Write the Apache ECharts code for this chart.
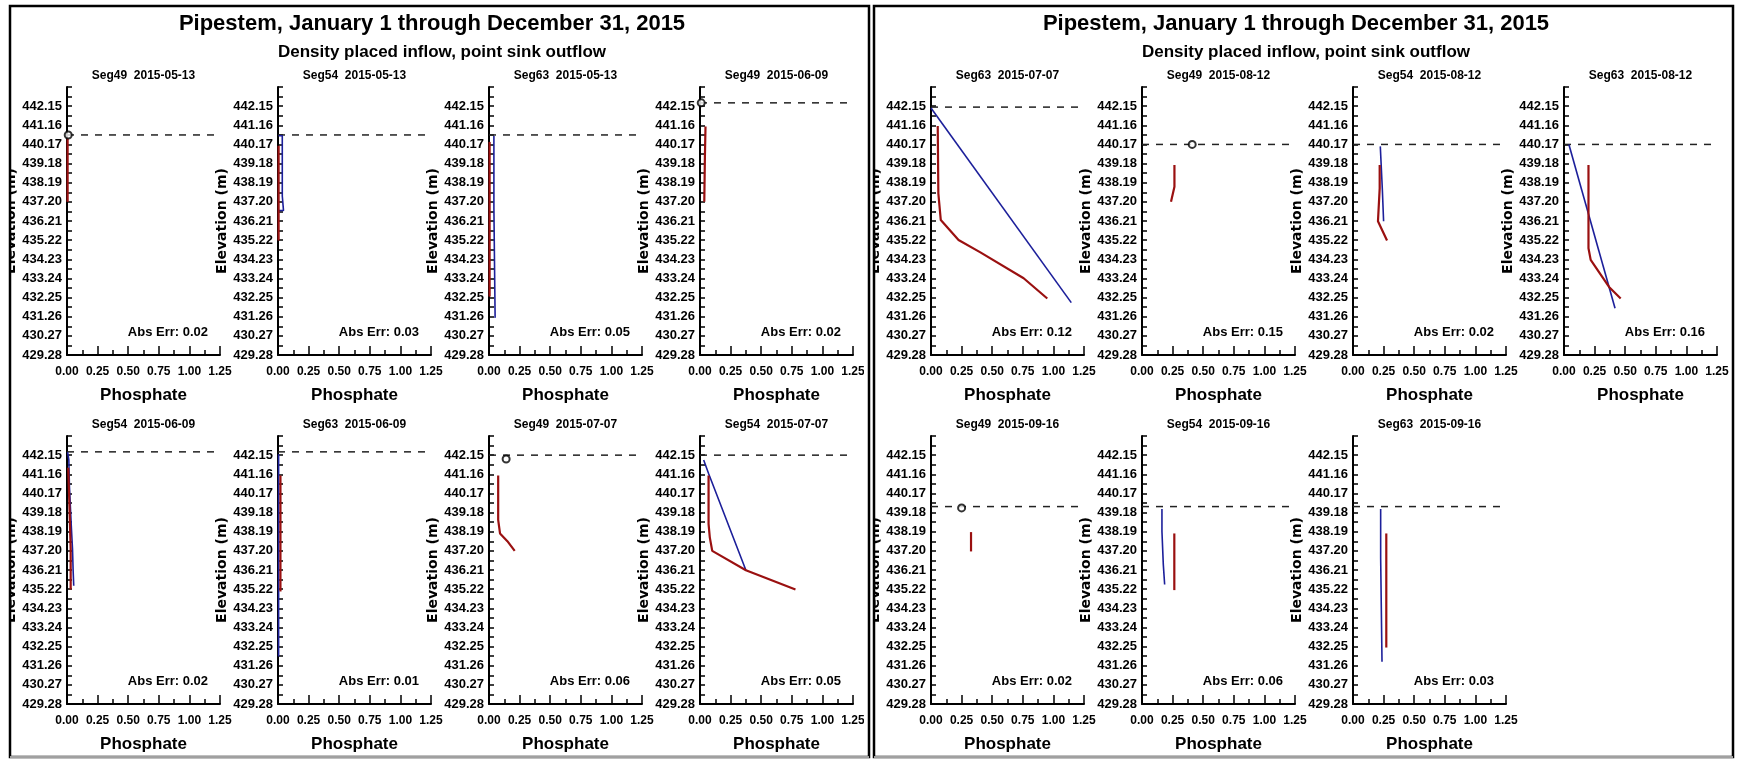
<!DOCTYPE html>
<html><head><meta charset="utf-8">
<script src="https://cdn.jsdelivr.net/npm/echarts@6/dist/echarts.min.js"></script>
<style>html,body{margin:0;padding:0;background:#fff}#c{width:1737px;height:769px}</style>
</head><body><div id="c"></div>
<script>
// ---------------- DATA ----------------
const mainTitle = 'Pipestem, January 1 through December 31, 2015';
const subTitle = 'Density placed inflow, point sink outflow';
const subplotTitles = [
  'Seg49  2015-05-13','Seg54  2015-05-13','Seg63  2015-05-13','Seg49  2015-06-09',
  'Seg54  2015-06-09','Seg63  2015-06-09','Seg49  2015-07-07','Seg54  2015-07-07',
  'Seg63  2015-07-07','Seg49  2015-08-12','Seg54  2015-08-12','Seg63  2015-08-12',
  'Seg49  2015-09-16','Seg54  2015-09-16','Seg63  2015-09-16'
];
const absErr = ['0.02','0.03','0.05','0.02','0.02','0.01','0.06','0.05','0.12','0.15','0.02','0.16','0.02','0.06','0.03'];
const waterSurface = [440.66,440.66,440.66,442.32,442.32,442.32,442.15,442.15,442.1,440.17,440.17,440.17,439.49,439.49,439.49];
const surfaceMarkX = [0.01,null,null,0.01,null,null,0.14,null,null,0.41,null,null,0.25,null,null];
const surfaceMarkY = [440.66,null,null,442.32,null,null,441.95,null,null,440.17,null,null,439.42,null,null];
const modeled = [
  [],
  [[0.005,440.62],[0.035,440.62],[0.035,437.5],[0.045,437.4],[0.045,436.75],[0.005,436.75]],
  [[0.04,440.6],[0.04,436.9],[0.05,436.8],[0.05,431.2]],
  [],
  [[0.005,442.3],[0.015,441.9],[0.02,440.5],[0.035,438.5],[0.045,437.3],[0.05,436.2],[0.055,435.4]],
  [[0.005,442.2],[0.005,431.74]],
  [],
  [[0.03,441.9],[0.07,441.2],[0.375,436.2]],
  [[0.0,442.05],[1.146,431.99]],
  [],
  [[0.223,440.07],[0.24,437.8],[0.25,437.8],[0.25,436.2]],
  [[0.04,440.17],[0.417,431.7]],
  [],
  [[0.163,439.37],[0.163,438.2],[0.174,438.2],[0.174,436.5],[0.185,436.5],[0.185,435.46]],
  [[0.226,439.37],[0.226,436.83],[0.237,436.83],[0.237,431.47]]
];
const observed = [
  [[0.005,440.5],[0.005,437.2]],
  [[0.005,440.1],[0.005,435.2]],
  [[0.005,440.3],[0.005,432.3]],
  [[0.045,441.1],[0.04,439.5],[0.035,437.2]],
  [[0.01,441.5],[0.02,439.5],[0.03,437.3],[0.03,435.2]],
  [[0.02,441.1],[0.02,435.1]],
  [[0.075,441.1],[0.075,438.8],[0.09,438.1],[0.15,437.7],[0.21,437.2]],
  [[0.07,441.1],[0.07,438.6],[0.08,437.9],[0.1,437.2],[0.375,436.2],[0.78,435.2]],
  [[0.055,441.12],[0.06,437.64],[0.08,436.26],[0.225,435.23],[0.4,434.6],[0.757,433.25],[0.95,432.2]],
  [[0.265,439.1],[0.265,437.98],[0.237,437.2]],
  [[0.218,439.1],[0.218,437.9],[0.204,437.9],[0.204,436.2],[0.278,435.2]],
  [[0.2,439.1],[0.2,434.8],[0.218,434.2],[0.368,432.8],[0.463,432.2]],
  [[0.327,438.17],[0.327,437.17]],
  [[0.264,438.1],[0.264,435.17]],
  [[0.272,438.1],[0.272,432.2]]
];
const xTickLabels = ['0.00','0.25','0.50','0.75','1.00','1.25'];
const yTickLabels = ['429.28','430.27','431.26','432.25','433.24','434.23','435.22','436.21','437.20','438.19','439.18','440.17','441.16','442.15'];
const xName = 'Phosphate';
const yName = 'Elevation (m)';
const errPrefix = 'Abs Err: ';

// ---------------- LAYOUT ----------------
const NARROW = '"Liberation Sans Narrow","Arial Narrow","Nimbus Sans Narrow",sans-serif';
const panelX = [10, 874];
const panelW = 859;
const colOff = [57, 268, 479, 690];
const rowTop = [87, 436];
const gridW = 153, gridH = 268;
const yMin = Number(yTickLabels[0]);
const yStep = Number(yTickLabels[1]) - Number(yTickLabels[0]);
const yMax = Number(yTickLabels[yTickLabels.length-1]) + yStep;
const yLabelVals = yTickLabels.map(Number);
const yTickVals = [];
for (let i = 0; i < yLabelVals.length; i++) {
  yTickVals.push(yLabelVals[i]);
  yTickVals.push(+(yLabelVals[i] + yStep/2).toFixed(3));
}
yTickVals.push(+yMax.toFixed(2));
const xMax = Number(xTickLabels[xTickLabels.length-1]);
const xInt = Number(xTickLabels[1]);

const grids = [], xAxes = [], yAxes = [], series = [], graphics = [];
const RED = '#9a1010', BLUE = '#1c1f9a';

subplotTitles.forEach((t, k) => {
  const p = k < 8 ? 0 : 1;
  const j = p ? k - 8 : k;
  const row = Math.floor(j / 4), col = j % 4;
  const left = panelX[p] + colOff[col];
  const top = rowTop[row];
  grids.push({left: left, top: top, width: gridW, height: gridH});
  xAxes.push({
    gridIndex: k, type: 'value', min: 0, max: xMax, interval: xInt,
    axisLine: {show: true, onZero: false, lineStyle: {color: '#000', width: 2}},
    axisTick: {show: true, inside: true, length: 9, lineStyle: {color: '#000', width: 1.5}},
    minorTick: {show: true, splitNumber: 2, length: 5, lineStyle: {color: '#000', width: 1.5}},
    splitLine: {show: false},
    axisLabel: {color: '#000', fontFamily: NARROW, fontWeight: 'bold', fontSize: 12, margin: 11,
      formatter: v => xTickLabels[Math.round(v / xInt)] || ''},
    name: xName, nameLocation: 'middle', nameGap: 32,
    nameTextStyle: {color: '#000', fontFamily: NARROW, fontWeight: 'bold', fontSize: 17}
  });
  yAxes.push({
    gridIndex: k, type: 'value', min: yMin, max: yMax,
    axisLine: {show: true, onZero: false, lineStyle: {color: '#000', width: 2}},
    axisTick: {show: true, inside: true, length: 5, customValues: yTickVals, lineStyle: {color: '#000', width: 1.5}},
    splitLine: {show: false},
    axisLabel: {color: '#000', fontFamily: NARROW, fontWeight: 'bold', fontSize: 13, margin: 5,
      customValues: yLabelVals, formatter: v => v.toFixed(2)},
    name: yName, nameLocation: 'middle', nameGap: 44,
    nameTextStyle: {color: '#000', fontFamily: '"DejaVu Sans",sans-serif', fontWeight: 'bold', fontSize: 14}
  });
  series.push({
    type: 'line', xAxisIndex: k, yAxisIndex: k, symbol: 'none', silent: true, z: 2,
    data: [[0, waterSurface[k]], [xMax, waterSurface[k]]],
    lineStyle: {color: '#222', width: 1.5, type: [7, 7]}
  });
  if (modeled[k].length) series.push({
    type: 'line', xAxisIndex: k, yAxisIndex: k, symbol: 'none', silent: true, z: 3,
    data: modeled[k], lineStyle: {color: BLUE, width: 1.6}
  });
  if (observed[k].length) series.push({
    type: 'line', xAxisIndex: k, yAxisIndex: k, symbol: 'none', silent: true, z: 4,
    data: observed[k], lineStyle: {color: RED, width: 2.2}
  });
  if (surfaceMarkX[k] !== null) series.push({
    type: 'scatter', xAxisIndex: k, yAxisIndex: k, silent: true, z: 5,
    symbol: 'circle', symbolSize: 7,
    data: [[surfaceMarkX[k], surfaceMarkY[k]]],
    itemStyle: {color: '#fff', borderColor: '#000', borderWidth: 2}
  });
  graphics.push({type: 'text', x: left + gridW/2, y: top - 11, z: 10,
    style: {text: t, font: 'bold 12px ' + NARROW, fill: '#000', textAlign: 'center', textVerticalAlign: 'middle'}});
  graphics.push({type: 'text', x: left + gridW - 12, y: top + gridH - 23, z: 10,
    style: {text: errPrefix + absErr[k], font: 'bold 13px ' + NARROW, fill: '#000', textAlign: 'right', textVerticalAlign: 'middle'}});
});

panelX.forEach((px, p) => {
  graphics.push({type: 'text', x: px + 422, y: 24, z: 10,
    style: {text: mainTitle, font: 'bold 22px ' + NARROW, fill: '#000', textAlign: 'center', textVerticalAlign: 'middle'}});
  graphics.push({type: 'text', x: px + 432, y: 52, z: 10,
    style: {text: subTitle, font: 'bold 17px ' + NARROW, fill: '#000', textAlign: 'center', textVerticalAlign: 'middle'}});
  graphics.push({type: 'rect', z: 20, shape: {x: px - 10, y: 0, width: 9, height: 769}, style: {fill: '#fff'}});
  graphics.push({type: 'rect', z: 21, shape: {x: px, y: 6, width: panelW, height: 751},
    style: {fill: 'none', stroke: '#000', lineWidth: 2.5}});
  graphics.push({type: 'line', z: 22, shape: {x1: px, y1: 757, x2: px + panelW, y2: 757},
    style: {stroke: '#a0a0a0', lineWidth: 2}});
});

const chart = echarts.init(document.getElementById('c'), null, {renderer: 'canvas'});
chart.setOption({
  animation: false,
  backgroundColor: '#fff',
  grid: grids, xAxis: xAxes, yAxis: yAxes, series: series,
  graphic: graphics
});
</script></body></html>
